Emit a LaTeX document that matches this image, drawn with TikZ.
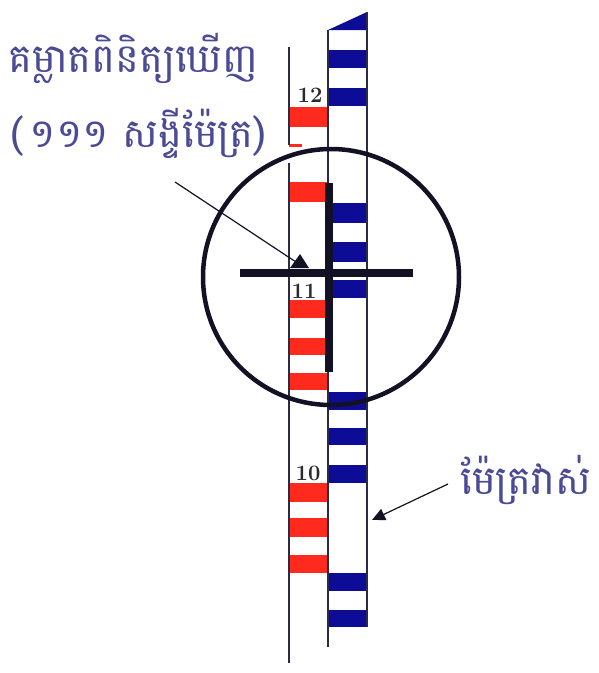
\documentclass[tikz,border=0pt]{standalone}
\usepackage{fontspec}
\newfontfamily\khmer[Script=Khmer]{Battambang}
\usetikzlibrary{arrows.meta}
\definecolor{staffred}{HTML}{FF2A1E}
\definecolor{staffblue}{HTML}{0C0C96}
\definecolor{linecol}{HTML}{2B2B45}
\definecolor{textcol}{HTML}{4A4A95}
\definecolor{crosscol}{HTML}{121224}
\definecolor{numcol}{HTML}{2A2A2A}
\begin{document}
\begin{tikzpicture}[x=1pt,y=-1pt,
  redbar/.style={fill=staffred,draw=none},
  bluebar/.style={fill=staffblue,draw=none},
  staffline/.style={draw=linecol,line width=1.2pt},
  khlabel/.style={font=\khmer\fontsize{40}{46}\selectfont,text=textcol,inner sep=0pt},
  numlabel/.style={font=\bfseries\fontsize{22}{22}\selectfont,text=numcol,inner sep=0pt},
  cross/.style={draw=crosscol,line width=8pt},
  pointer/.style={draw=crosscol,line width=1.2pt},
]
\useasboundingbox[fill=white] (0,0) rectangle (598,673);

% red bars (left column)
\foreach \a/\b in {107/127,182/202,300/318,338/355,373/390,483/502,518/537,555/573}
  \fill[staffred] (289,\a) rectangle (328,\b);
\fill[staffred] (289,144) rectangle (302,147);
% blue bars (right column)
\foreach \a/\b in {50/68,88/106,203/223,242/262,280/298,392/410,428/445,465/483,573/591,610/627}
  \fill[staffblue] (328,\a) rectangle (367,\b);
\fill[staffblue] (328,30) -- (367,12) -- (367,30) -- cycle;

% staff lines
\draw[staffline] (289,47) -- (289,145);
\draw[staffline] (289,163) -- (289,663);
\draw[staffline] (328,30) -- (328,647);
\draw[staffline] (367,12) -- (367,627);

% numbers
\node[numlabel,anchor=base] (n12) at (310,102) {12};
\node[numlabel,anchor=base] (n11) at (304,298) {11};
\node[numlabel,anchor=base] (n10) at (308,480) {10};

% crosshair
\draw[cross] (329,183) -- (329,372);
\draw[cross] (240,273) -- (413,273);

% circle
\draw[draw=crosscol,line width=4.5pt] (331,277) circle[radius=128];

% labels
\node[khlabel,anchor=base west] (t1) at (8,72) {គម្លាតពិនិត្យឃើញ};
\node[khlabel,anchor=base west] (t2) at (10,147) {(\,១១១ សង្ទីម៉ែត្រ)};
\node[khlabel,anchor=base west] (t3) at (460,494) {ម៉ែត្រវាស់};

% pointers
\coordinate (p1s) at (175,182);
\coordinate (p1e) at (296,262);
\draw[pointer] (p1s) -- (p1e);
\fill[crosscol] (290,268) -- (300,254) -- (309,268) -- cycle;
\coordinate (p2s) at (448,484);
\coordinate (p2e) at (372,520);
\draw[pointer,-{Triangle[length=13pt,width=12pt]}] (p2s) -- (p2e);
\end{tikzpicture}
\end{document}
